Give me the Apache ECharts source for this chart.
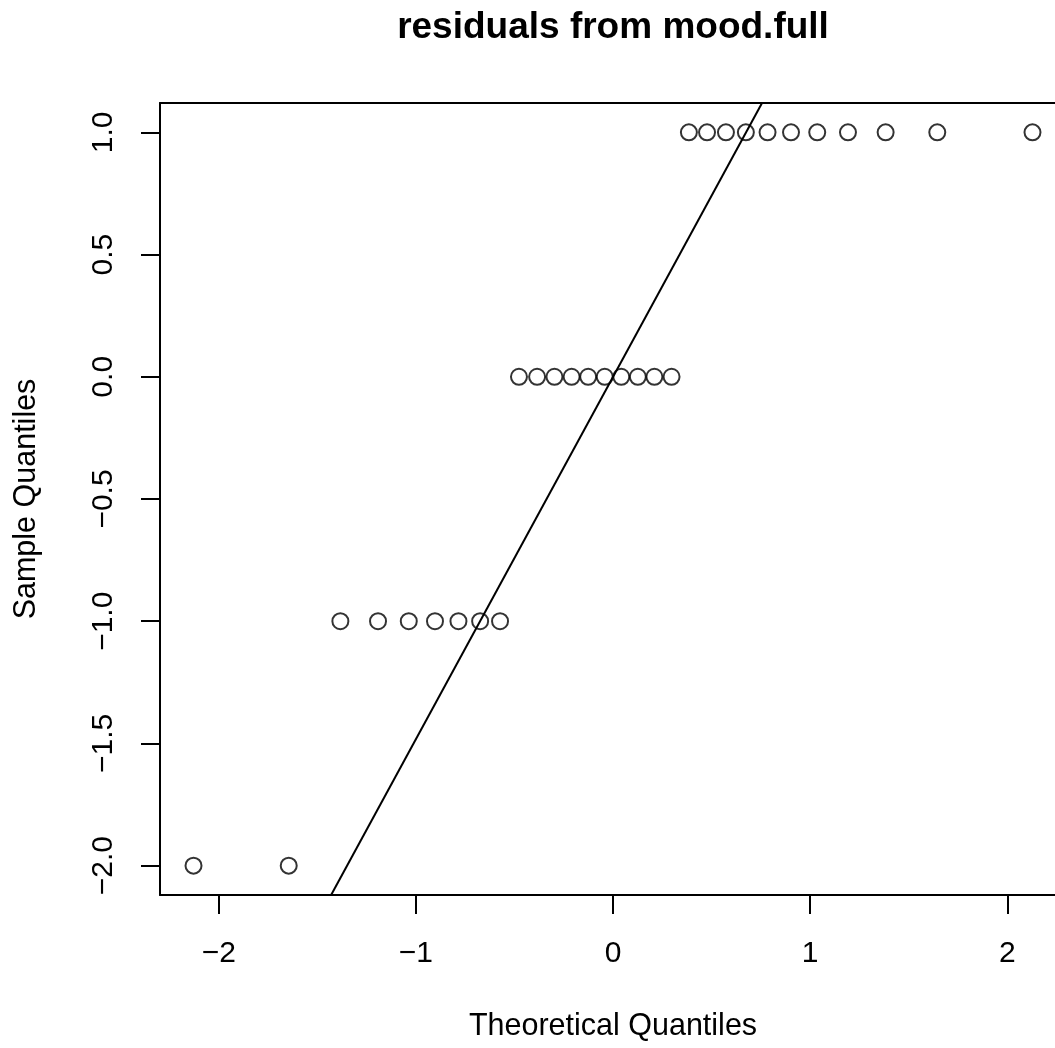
<!DOCTYPE html>
<html>
<head>
<meta charset="utf-8">
<script src="https://cdn.jsdelivr.net/npm/echarts@6/dist/echarts.min.js"></script>
<style>
  html, body { margin: 0; padding: 0; background: #fff; }
  #main { width: 1055px; height: 1048px; }
</style>
</head>
<body>
<div id="main"></div>
<script>
// 理论分位数 (x)
const theoretical = [
  -2.128, -1.645, -1.383, -1.192, -1.036, -0.903, -0.784, -0.674, -0.573, -0.477,
  -0.385, -0.297, -0.210, -0.126, -0.042, 0.042, 0.126, 0.210, 0.297, 0.385,
  0.477, 0.573, 0.674, 0.784, 0.903, 1.036, 1.192, 1.383, 1.645, 2.128
]
// 样本分位数 (y)
const sample = [
  -2, -2, -1, -1, -1, -1, -1, -1, -1, 0,
  0, 0, 0, 0, 0, 0, 0, 0, 0, 1,
  1, 1, 1, 1, 1, 1, 1, 1, 1, 1
]
// qqline 两端
const lineX = [-1.43, 0.756]
const lineY = [-2.12, 1.12]
// 刻度
const xTicks = [-2, -1, 0, 1, 2]
const yTicks = [-2, -1.5, -1, -0.5, 0, 0.5, 1]

const font = 'Liberation Sans, Arial, Helvetica, sans-serif'
const minus = s => String(s).replace('-', '\u2212')
const black = { color: '#000', width: 2 }

const myChart = echarts.init(document.querySelector('#main'))
const option = {
  animation: false,
  backgroundColor: '#fff',
  graphic: [
    {
      type: 'text',
      x: 613,
      y: 28,
      style: {
        text: 'residuals from mood.full',
        font: 'bold 37px ' + font,
        fill: '#000',
        textAlign: 'center',
        textVerticalAlign: 'middle'
      }
    }
  ],
  // 右边框在画布外
  grid: {
    left: 160,
    top: 103,
    width: 906,
    height: 792,
    show: false,
    outerBoundsMode: 'none'
  },
  xAxis: [
    {
      type: 'value',
      position: 'bottom',
      min: -2.298,
      max: 2.298,
      name: 'Theoretical Quantiles',
      nameLocation: 'middle',
      nameGap: 116,
      nameTextStyle: { fontFamily: font, fontSize: 30.5, color: '#000' },
      splitLine: { show: false },
      axisLine: { show: true, onZero: false, lineStyle: black },
      axisTick: { show: true, customValues: xTicks, length: 19, lineStyle: black },
      axisLabel: {
        customValues: xTicks,
        margin: 44,
        fontFamily: font,
        fontSize: 30,
        color: '#000',
        formatter: v => minus(v)
      }
    },
    {
      // 上边框
      type: 'value',
      position: 'top',
      min: -2.298,
      max: 2.298,
      splitLine: { show: false },
      axisLine: { show: true, onZero: false, lineStyle: black },
      axisTick: { show: false },
      axisLabel: { show: false }
    }
  ],
  yAxis: {
    type: 'value',
    min: -2.12,
    max: 1.12,
    name: 'Sample Quantiles',
    nameLocation: 'middle',
    nameGap: 118,
    nameTextStyle: { fontFamily: font, fontSize: 30.5, color: '#000' },
    splitLine: { show: false },
    axisLine: { show: true, onZero: false, lineStyle: black },
    axisTick: { show: true, customValues: yTicks, length: 19, lineStyle: black },
    axisLabel: {
      customValues: yTicks,
      rotate: 90,
      margin: 41,
      fontFamily: font,
      fontSize: 30,
      color: '#000',
      formatter: v => minus(v.toFixed(1))
    }
  },
  series: [
    {
      type: 'scatter',
      symbol: 'circle',
      symbolSize: 16,
      itemStyle: {
        color: 'rgba(0,0,0,0)',
        borderColor: '#000',
        borderWidth: 2
      },
      data: theoretical.map((x, i) => [x, sample[i]])
    },
    {
      type: 'line',
      showSymbol: false,
      clip: true,
      lineStyle: black,
      data: lineX.map((x, i) => [x, lineY[i]])
    }
  ]
}
myChart.setOption(option)
</script>
</body>
</html>
